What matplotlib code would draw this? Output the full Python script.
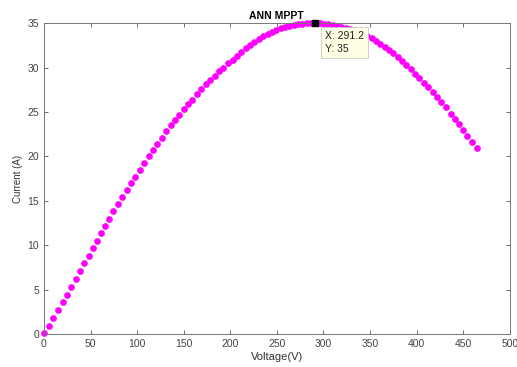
import matplotlib.pyplot as plt

# ANN MPPT tracking points (voltage in V, current in A)
voltage = [0.5, 5, 10, 15, 20, 25, 29.5, 34, 39, 43.5, 48, 52.8, 57.3, 61, 65.4,
           70, 74.6, 79.4, 83.8, 88.8, 93.5, 98, 103, 107.6, 112.3, 117, 121.6,
           126.3, 131, 135.9, 140.6, 145.2, 149.9, 154.5, 159.1, 163.8, 168.8,
           173.5, 178.1, 183.1, 187.8, 192.4, 197.4, 202.4, 207.4, 212, 216.8,
           221.5, 226, 231, 235.5, 240, 245, 249.5, 254, 259, 263.5, 268, 273,
           277.5, 282, 286.5, 291.2, 296, 300.5, 305, 310, 314.5, 319, 324,
           328.5, 333, 338, 342.5, 347, 352, 356.5, 361, 366, 370.5, 375, 380,
           384.5, 389, 394, 398.5, 403, 407.5, 412.3, 417.7, 422.4, 426.7, 432,
           436.7, 441, 445.6, 449.9, 454.6, 460, 465]
current = [0.1, 0.95, 1.8, 2.7, 3.57, 4.42, 5.3, 6.2, 7.1, 7.97, 8.8, 9.66, 10.5,
           11.35, 12.17, 13.0, 13.8, 14.63, 15.42, 16.2, 16.96, 17.7, 18.5, 19.3,
           20.0, 20.7, 21.4, 22.1, 22.8, 23.5, 24.1, 24.7, 25.3, 25.9, 26.4, 27.0,
           27.6, 28.1, 28.6, 29.1, 29.6, 30.0, 30.5, 30.9, 31.3, 31.8, 32.2, 32.55,
           32.85, 33.2, 33.5, 33.75, 34.0, 34.2, 34.4, 34.55, 34.7, 34.8, 34.9,
           34.95, 35.0, 35.0, 35.0, 35.0, 34.95, 34.9, 34.8, 34.7, 34.6, 34.5,
           34.35, 34.2, 34.0, 33.8, 33.55, 33.3, 33.0, 32.7, 32.3, 31.95, 31.6,
           31.2, 30.75, 30.3, 29.8, 29.25, 28.8, 28.3, 27.8, 27.3, 26.7, 26.1,
           25.5, 24.8, 24.2, 23.6, 23.0, 22.3, 21.6, 20.9]

mpp_v = 291.2
mpp_i = 35

xticks = [0, 50, 100, 150, 200, 250, 300, 350, 400, 450, 500]
yticks = [0, 5, 10, 15, 20, 25, 30, 35]

plt.rcParams['font.family'] = ['Liberation Sans', 'DejaVu Sans']

fig = plt.figure(figsize=(5.17, 3.67), dpi=100)
ax = fig.add_axes([0.085, 0.09, 0.901, 0.847])

ax.plot(voltage, current, linestyle='none', marker='o', markersize=3.8,
        color='#ff00ff', markeredgecolor='#ff00ff', clip_on=False)

# data tip at the maximum power point
ax.plot([mpp_v], [mpp_i], marker='s', markersize=5, color='black', clip_on=False, zorder=5)
ax.annotate(f"X: {mpp_v}\nY: {mpp_i}", xy=(mpp_v, mpp_i), xytext=(7, -6),
            textcoords='offset points', ha='left', va='top', fontsize=7.5,
            color='#222222', linespacing=1.35,
            bbox=dict(boxstyle='square,pad=0.4', fc='#ffffe6', ec='#c8c8c8', lw=0.6),
            zorder=6)

ax.set_xlim(0, 500)
ax.set_ylim(0, 35)
ax.set_xticks(xticks)
ax.set_yticks(yticks)
ax.tick_params(direction='in', top=True, right=True, length=3, width=0.6,
               colors='#555555', labelsize=7.5, labelcolor='#444444')
for s in ax.spines.values():
    s.set_color('#777777')
    s.set_linewidth(0.7)

ax.set_title('ANN MPPT', fontsize=7.5, fontweight='bold', pad=3)
ax.set_xlabel('Voltage(V)', fontsize=8, color='#333333', labelpad=2)
ax.set_ylabel('Current (A)', fontsize=7, color='#333333', labelpad=3)

fig.savefig('out.png', dpi=100)
